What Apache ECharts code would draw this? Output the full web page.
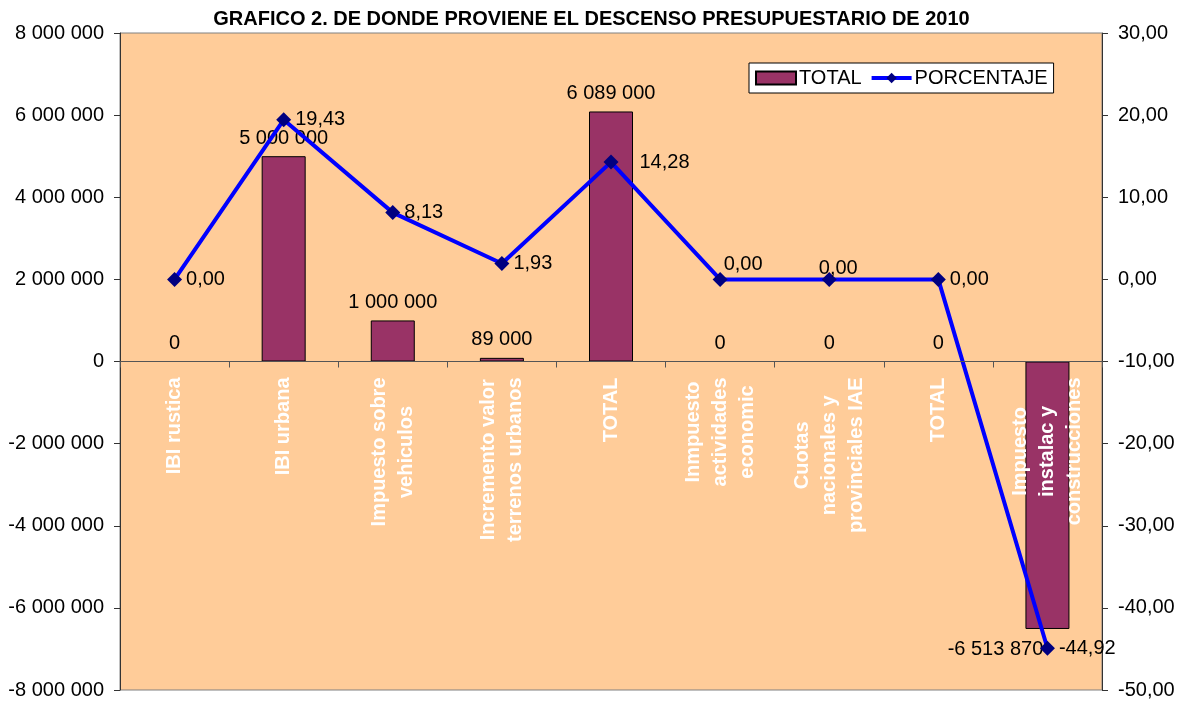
<!DOCTYPE html>
<html>
<head>
<meta charset="utf-8">
<script src="https://cdn.jsdelivr.net/npm/echarts@6/dist/echarts.min.js"></script>
<style>
  html, body { margin: 0; padding: 0; background: #fff; }
  #chart { width: 1183px; height: 703px; }
</style>
</head>
<body>
<div id="chart"></div>
<script>
// categorias y valores
var categorias = [
    'IBI rustica',
    'IBI urbana',
    'Impuesto sobre\nvehiculos',
    'Incremento valor\nterrenos urbanos',
    'TOTAL',
    'Inmpuesto\nactividades\neconomic',
    'Cuotas\nnacionales y\nprovinciales IAE',
    'TOTAL',
    'Impuesto\ninstalac y\nconstrucciones'
];
var totales = [0, 5000000, 1000000, 89000, 6089000, 0, 0, 0, -6513870];
var porcentajes = [0, 19.43, 8.13, 1.93, 14.28, 0, 0, 0, -44.92];

var fuente = '"Liberation Sans", Arial, sans-serif';

function miles(v) {
    return String(v).replace(/\B(?=(\d{3})+(?!\d))/g, ' ');
}
function decimal(v) {
    return Number(v).toFixed(2).replace('.', ',');
}

var myChart = echarts.init(document.getElementById('chart'));

// ajustes de etiquetas (movidas a mano en el original)
var ajustePct = {
    4: { offset: [17, 0] },
    5: { position: 'top', offset: [23, 7] },
    6: { position: 'top', offset: [9, 11] }
};

var datosBarras = totales.map(function (v) {
    if (v < 0) {
        return { value: v, label: { position: 'bottom', distance: 11, offset: [-52, 0] } };
    }
    if (v === 0) {
        return { value: v, itemStyle: { borderWidth: 0 } };
    }
    return v;
});
var datosPct = porcentajes.map(function (v, i) {
    if (ajustePct[i]) {
        return { value: v, label: ajustePct[i] };
    }
    return v;
});

// las etiquetas del eje X van justo debajo de la linea del cero
var altoGrid = 703 - 33 - 13;
var margenEtiquetas = 16 - altoGrid / 2;

var option = {
    animation: false,
    textStyle: { fontFamily: fuente },
    title: {
        text: 'GRAFICO 2. DE DONDE PROVIENE EL DESCENSO PRESUPUESTARIO DE 2010',
        left: 'center',
        top: 4,
        textStyle: { fontFamily: fuente, fontSize: 20, fontWeight: 'bold', color: '#000' }
    },
    legend: {
        left: 749,
        top: 63,
        backgroundColor: '#fff',
        borderColor: '#000',
        borderWidth: 1,
        borderRadius: 0,
        padding: [5, 6, 5, 6],
        itemGap: 8,
        itemWidth: 40,
        itemHeight: 13,
        lineStyle: { width: 4 },
        textStyle: { fontFamily: fuente, fontSize: 20, color: '#000', padding: [0, 0, 0, -2] },
        data: [
            { name: 'TOTAL', icon: 'rect' },
            { name: 'PORCENTAJE' }
        ]
    },
    grid: {
        left: 120,
        right: 81,
        top: 33,
        bottom: 13,
        containLabel: false,
        outerBoundsMode: 'none',
        show: true,
        backgroundColor: '#FFCC99',
        borderColor: '#808080',
        borderWidth: 1
    },
    xAxis: {
        type: 'category',
        data: categorias,
        z: 10,
        axisLine: { onZero: true, lineStyle: { color: '#555', width: 1 } },
        axisTick: { show: true, length: 6, lineStyle: { color: '#555' } },
        axisLabel: {
            rotate: 90,
            margin: margenEtiquetas,
            interval: 0,
            hideOverlap: false,
            color: '#fff',
            fontSize: 20,
            fontWeight: 'bold',
            lineHeight: 27,
            formatter: function (v) {
                return v.split('\n').map(function (s) { return '{a|' + s + '}'; }).join('\n');
            },
            rich: {
                a: { align: 'center', color: '#fff', fontSize: 20, fontWeight: 'bold', lineHeight: 27, fontFamily: fuente }
            }
        }
    },
    yAxis: [
        {
            type: 'value',
            min: -8000000,
            max: 8000000,
            interval: 2000000,
            axisLine: { show: true, lineStyle: { color: '#333' } },
            axisTick: { show: true, length: 6, lineStyle: { color: '#333' } },
            splitLine: { show: false },
            axisLabel: {
                margin: 16,
                color: '#000',
                fontSize: 20,
                formatter: miles
            }
        },
        {
            type: 'value',
            min: -50,
            max: 30,
            interval: 10,
            axisLine: { show: true, lineStyle: { color: '#333' } },
            axisTick: { show: true, length: 6, lineStyle: { color: '#333' } },
            splitLine: { show: false },
            axisLabel: {
                margin: 16,
                color: '#000',
                fontSize: 20,
                formatter: decimal
            }
        }
    ],
    series: [
        {
            name: 'TOTAL',
            type: 'bar',
            data: datosBarras,
            yAxisIndex: 0,
            barWidth: 44,
            itemStyle: { color: '#993366', borderColor: '#000', borderWidth: 1 },
            label: {
                show: true,
                position: 'top',
                distance: 8,
                color: '#000',
                fontSize: 20,
                formatter: function (p) { return miles(p.value); }
            }
        },
        {
            name: 'PORCENTAJE',
            type: 'line',
            data: datosPct,
            yAxisIndex: 1,
            z: 5,
            symbol: 'diamond',
            symbolSize: 15,
            itemStyle: { color: '#000080' },
            lineStyle: { color: '#0000FF', width: 4 },
            label: {
                show: true,
                position: 'right',
                distance: 4,
                color: '#000',
                fontSize: 20,
                formatter: function (p) { return decimal(p.value); }
            }
        }
    ]
};

myChart.setOption(option);
</script>
</body>
</html>
